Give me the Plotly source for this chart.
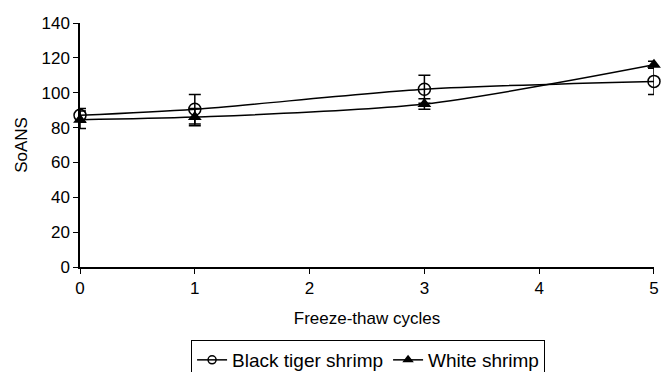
import plotly.graph_objects as go

cycles = [0, 1, 3, 5]
black_tiger = [87, 90.5, 102, 106.5]
black_tiger_err = [4, 8.5, 8, 7.5]
white = [84.5, 86, 93.5, 116]
white_err = [5, 5, 3, 2]

x_ticks = [0, 1, 2, 3, 4, 5]
y_ticks = [0, 20, 40, 60, 80, 100, 120, 140]

line_style = dict(color="black", width=1.5, shape="spline", smoothing=0.8)
bt_marker = dict(symbol="circle-open", size=12, color="black", line=dict(width=1.5))
w_marker = dict(symbol="triangle-up", size=12, color="black")

fig = go.Figure()
fig.add_trace(go.Scatter(
    x=cycles, y=black_tiger, name="Black tiger shrimp", showlegend=False,
    mode="lines+markers", line=line_style, marker=bt_marker,
    error_y=dict(type="data", array=black_tiger_err, color="black", thickness=1.5, width=6),
    cliponaxis=False,
))
fig.add_trace(go.Scatter(
    x=cycles, y=white, name="White shrimp", showlegend=False,
    mode="lines+markers", line=line_style, marker=w_marker,
    error_y=dict(type="data", array=white_err, color="black", thickness=1.5, width=6),
    cliponaxis=False,
))
# legend entries with smaller symbols, as in the reference
fig.add_trace(go.Scatter(
    x=[None], y=[None], name="Black tiger shrimp", mode="lines+markers",
    line=dict(color="black", width=1.5),
    marker=dict(symbol="circle-open", size=8, color="black", line=dict(width=1.5)),
))
fig.add_trace(go.Scatter(
    x=[None], y=[None], name="White shrimp", mode="lines+markers",
    line=dict(color="black", width=1.5),
    marker=dict(symbol="triangle-up", size=10, color="black"),
))

font = dict(family="Liberation Sans, Arial, sans-serif", size=17, color="black")
legend_font = dict(family="Liberation Sans, Arial, sans-serif", size=19, color="black")
fig.update_layout(
    width=662, height=372,
    margin=dict(l=80, r=8, t=23, b=105),
    paper_bgcolor="white", plot_bgcolor="white",
    font=font,
    showlegend=True,
    legend=dict(orientation="h", xref="container", yref="container",
                x=0.556, xanchor="center", y=1 - 340 / 372, yanchor="top",
                bordercolor="black", borderwidth=1, font=legend_font,
                itemwidth=30, tracegroupgap=0),
    xaxis=dict(range=[-0.0001, 5.0001], tickvals=x_ticks, showline=True, linecolor="black", linewidth=1.5,
               ticks="outside", ticklen=5, tickcolor="black", showgrid=False, zeroline=False,
               automargin=False, tickfont=font,
               title=dict(text="Freeze-thaw cycles", font=font, standoff=15)),
    yaxis=dict(range=[0, 140], tickvals=y_ticks, showline=True, linecolor="black", linewidth=1.5,
               ticks="outside", ticklen=5, tickcolor="black", showgrid=False, zeroline=False,
               automargin=False, tickfont=font,
               title=dict(text="SoANS", font=font, standoff=10)),
)
fig.write_html("out.html", config={"displayModeBar": False},
               post_script="document.body.style.margin='0';")
